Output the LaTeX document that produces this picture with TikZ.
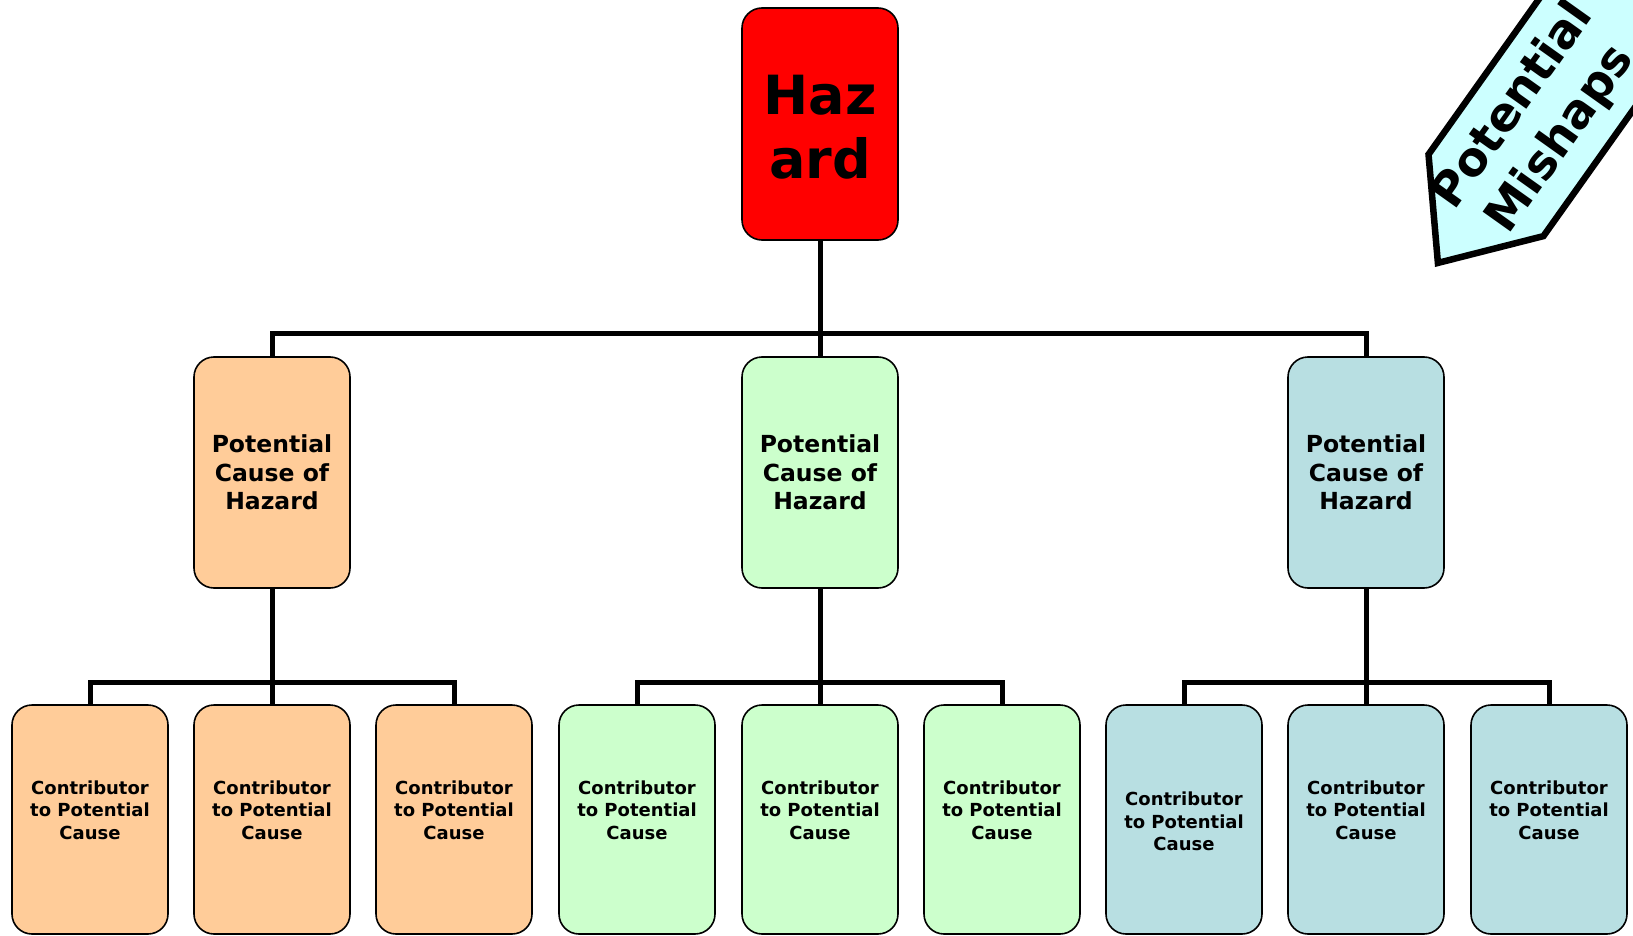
\documentclass[tikz,border=0pt]{standalone}
\usepackage{fontspec}
\setmainfont{DejaVu Sans}
\definecolor{hazred}{HTML}{FF0000}
\definecolor{corange}{HTML}{FFCC99}
\definecolor{cgreen}{HTML}{CCFFCC}
\definecolor{cblue}{HTML}{B8DFE2}
\definecolor{ccyan}{HTML}{CCFFFF}
\begin{document}
\begin{tikzpicture}[x=1pt,y=1pt,
  box/.style={draw=black, line width=1.6pt, rounded corners=20pt, minimum width=156pt, inner sep=0pt, align=center},
  hazbox/.style={box, fill=hazred, minimum height=232pt},
  haztext/.style={align=center, inner sep=0pt, font=\fontsize{54}{64}\selectfont\bfseries},
  midbox/.style={box, minimum height=231pt, font=\fontsize{23.5}{28.3}\selectfont\bfseries},
  leafbox/.style={box, minimum height=229pt},
  leaftext/.style={align=center, inner sep=0pt, font=\fontsize{18}{22.4}\selectfont\bfseries},
  conn/.style={line width=5pt},
]
\useasboundingbox (0,0) rectangle (1633,-936);

% Hazard
\node[hazbox] (haz) at (820,-124) {};
\node[haztext] (hazt) at ([yshift=-3pt]haz.center) {Haz\\ard};

% middle level
\node[midbox, fill=corange] (m1) at (272,-472.5) {Potential\\Cause of\\Hazard};
\node[midbox, fill=cgreen] (m2) at (820,-472.5) {Potential\\Cause of\\Hazard};
\node[midbox, fill=cblue] (m3) at (1366,-472.5) {Potential\\Cause of\\Hazard};

% leaves
\node[leafbox, fill=corange] (a1) at (90,-819.5) {};
\node[leafbox, fill=corange] (a2) at (272,-819.5) {};
\node[leafbox, fill=corange] (a3) at (454,-819.5) {};
\node[leafbox, fill=cgreen] (g1) at (637,-819.5) {};
\node[leafbox, fill=cgreen] (g2) at (820,-819.5) {};
\node[leafbox, fill=cgreen] (g3) at (1002,-819.5) {};
\node[leafbox, fill=cblue] (b1) at (1184,-819.5) {};
\node[leafbox, fill=cblue] (b2) at (1366,-819.5) {};
\node[leafbox, fill=cblue] (b3) at (1549,-819.5) {};

\foreach \n in {a1,a2,a3,g1,g2,g3,b2,b3}
  \node[leaftext] (t\n) at ([yshift=9.5pt]\n.center) {Contributor\\to Potential\\Cause};
\node[leaftext] (tb1) at ([yshift=-2pt]b1.center) {Contributor\\to Potential\\Cause};

% bus coordinates
\coordinate (bus0) at (820,-333);
\coordinate (busA) at (272,-682);
\coordinate (busG) at (820,-682);
\coordinate (busB) at (1366,-682);

% connectors
\draw[conn] (haz.south) -- (bus0);
\draw[conn] (m1.north) |- (bus0);
\draw[conn] (m3.north) |- (bus0);
\draw[conn] (m2.north) -- (bus0);

\draw[conn] (m1.south) -- (busA);
\draw[conn] (a1.north) |- (busA);
\draw[conn] (a3.north) |- (busA);
\draw[conn] (a2.north) -- (busA);

\draw[conn] (m2.south) -- (busG);
\draw[conn] (g1.north) |- (busG);
\draw[conn] (g3.north) |- (busG);
\draw[conn] (g2.north) -- (busG);

\draw[conn] (m3.south) -- (busB);
\draw[conn] (b1.north) |- (busB);
\draw[conn] (b3.north) |- (busB);
\draw[conn] (b2.north) -- (busB);

% Potential Mishaps arrow
\begin{scope}
\clip (0,0) rectangle (1633,-936);
\begin{scope}[shift={(1435,-267)}, rotate=54.6]
\draw[line width=6.5pt, fill=ccyan, line join=miter]
  (5,0) -- (88,70.5) -- (600,70.5) -- (600,-70.5) -- (88,-70.5) -- cycle;
\node[transform shape, align=center, inner sep=0pt,
      font=\fontsize{47}{58}\selectfont\bfseries] (pm) at (177,0) {Potential\\Mishaps};
\end{scope}
\end{scope}
\end{tikzpicture}
\end{document}
